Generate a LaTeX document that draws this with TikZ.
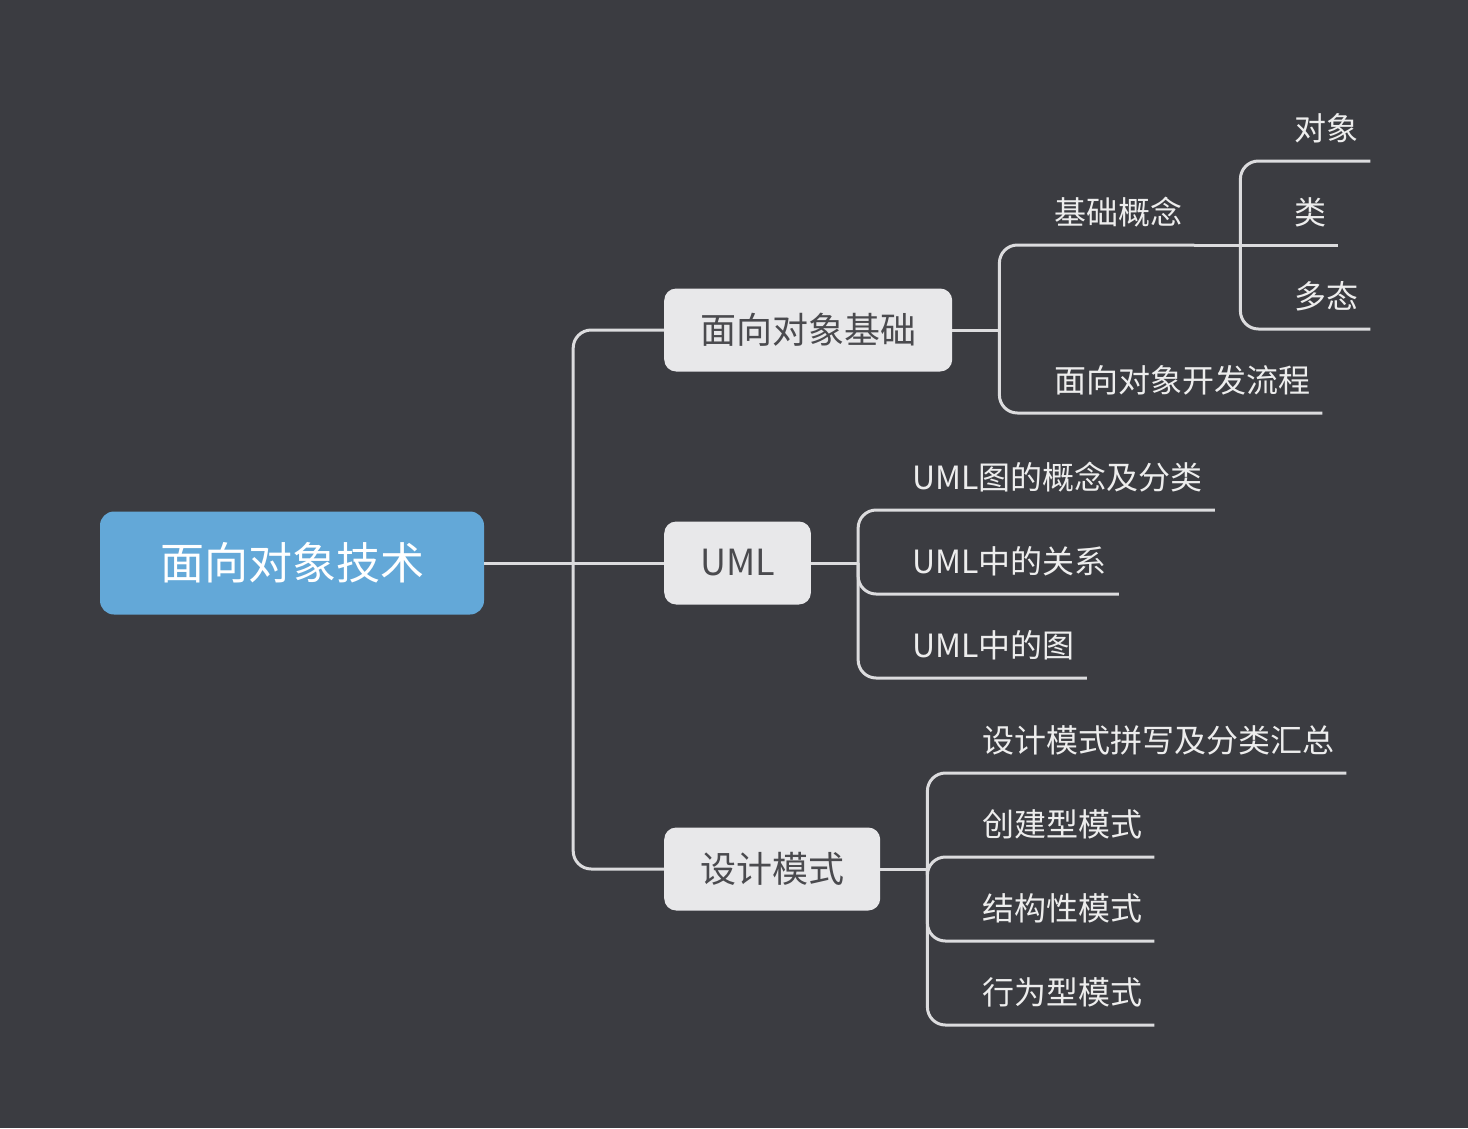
\documentclass[tikz,border=0pt]{standalone}
\usepackage{fontspec}
\newfontfamily\cjk{Noto Sans CJK SC}
\definecolor{bgdark}{HTML}{3B3C41}
\definecolor{rootblue}{HTML}{63A8D8}
\definecolor{topicfill}{HTML}{E8E8EA}
\definecolor{topictext}{HTML}{4A4A4E}
\definecolor{linegray}{HTML}{DCDCDE}
\definecolor{leaftext}{HTML}{EDEDED}
\begin{document}
\begin{tikzpicture}[
  x = 1pt, y = -1pt,
  rootbox/.style = {
    shape = rectangle,
    rounded corners = 14pt,
    fill = rootblue,
    text = white,
    font = \cjk\fontsize{44}{52}\selectfont,
    inner xsep = 60pt,
    minimum height = 103pt,
  },
  topic/.style = {
    shape = rectangle,
    rounded corners = 12pt,
    fill = topicfill,
    text = topictext,
    font = \cjk\fontsize{36}{44}\selectfont,
    inner xsep = 36pt,
    minimum height = 83pt,
    anchor = west,
  },
  leaf/.style = {
    anchor = south west,
    text = leaftext,
    font = \cjk\fontsize{32}{38}\selectfont,
    inner xsep = 12pt,
    inner ysep = 0pt,
    text depth = 20pt,
  },
  conn/.style = {
    draw = linegray,
    line width = 3pt,
    rounded corners = 18pt,
  }
]
  \useasboundingbox (0, 0) rectangle (1468, 1128);
  \fill[bgdark] (0, 0) rectangle (1468, 1128);

  \node[rootbox] (root) at (292, 563) {面向对象技术};

  \node[topic] (jc) at (664, 330) {面向对象基础};
  \node[topic] (uml) at (664, 563) {UML};
  \node[topic] (sj) at (664, 869) {设计模式};

  \node[leaf] (gn) at (1042, 245) {基础概念};
  \node[leaf] (lc) at (1042, 413) {面向对象开发流程};

  \node[leaf] (dx) at (1282, 161) {对象};
  \node[leaf] (lei) at (1282, 245) {类};
  \node[leaf] (dt) at (1282, 329) {多态};

  \node[leaf] (ug) at (900, 510) {UML图的概念及分类};
  \node[leaf] (ur) at (900, 594) {UML中的关系};
  \node[leaf] (ut) at (900, 678) {UML中的图};

  \node[leaf] (sh) at (970, 773) {设计模式拼写及分类汇总};
  \node[leaf] (cj) at (970, 857) {创建型模式};
  \node[leaf] (jg) at (970, 941) {结构性模式};
  \node[leaf] (xw) at (970, 1025) {行为型模式};

  \begin{scope}[every path/.style = { conn }]
    % stubs out of each parent, square where they meet the fork
    \draw (root.east) -- ++(89, 0) coordinate (root-fork);
    \draw (jc.east) -- ++(47, 0) coordinate (jc-fork);
    \draw (gn.south east) -- ++(46, 0) coordinate (gn-fork);
    \draw (uml.east) -- ++(47, 0) coordinate (uml-fork);
    \draw (sj.east) -- ++(47, 0) coordinate (sj-fork);

    \foreach \t in {jc, sj}
      \draw (root-fork) |- (\t.west);
    \draw (root-fork) -- (uml.west);
    \foreach \l in {gn, lc}
      \draw (jc-fork) |- (\l.south east);
    \foreach \l in {dx, dt}
      \draw (gn-fork) |- (\l.south east);
    \draw (gn-fork) -- (lei.south east);
    \foreach \l in {ug, ur, ut}
      \draw (uml-fork) |- (\l.south east);
    \foreach \l in {sh, cj, jg, xw}
      \draw (sj-fork) |- (\l.south east);
  \end{scope}
\end{tikzpicture}
\end{document}
